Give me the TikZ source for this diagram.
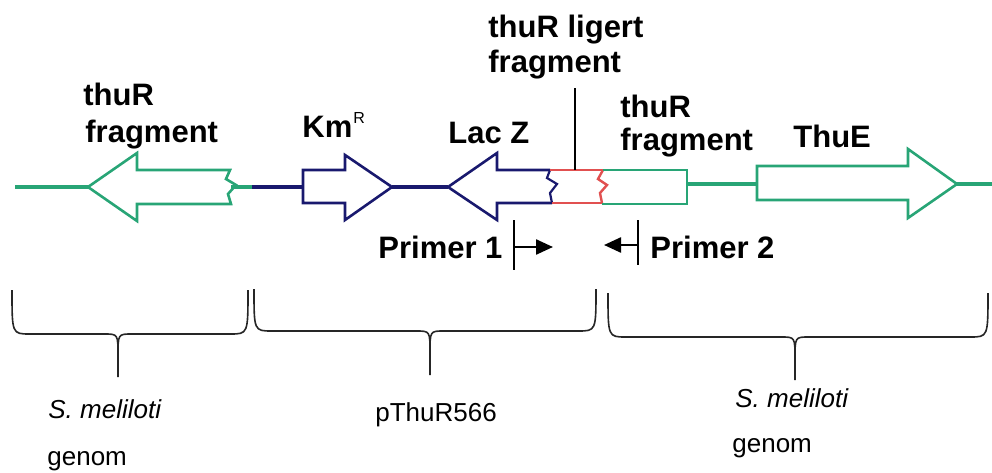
\documentclass[tikz,border=0pt]{standalone}
\usepackage{fontspec}
\setmainfont{Liberation Sans}
\usetikzlibrary{arrows.meta}
\definecolor{gengreen}{RGB}{40,165,118}
\definecolor{gennavy}{RGB}{25,25,110}
\definecolor{genred}{RGB}{225,80,80}
\newcommand\blfont{\fontsize{15.5}{17}\selectfont\bfseries}
\newcommand\rgfont{\fontsize{13}{15}\selectfont}
\tikzset{
  lbl/.style={anchor=base west,inner sep=0pt,font=\blfont},
  sublbl/.style={anchor=base west,inner sep=0pt,font=\rgfont},
  geneg/.style={draw=gengreen,line width=1.3pt,line join=miter},
  genen/.style={draw=gennavy,line width=1.3pt,line join=miter},
  gener/.style={draw=genred,line width=1.2pt},
  bracepath/.style={draw=black!85,line width=0.8pt},
  primerarrow/.style={line width=1.2pt,-{Triangle[length=8.5pt,width=7.5pt]}},
}
\begin{document}
\begin{tikzpicture}[x=0.5pt,y=-0.5pt]
\useasboundingbox (0,0) rectangle (992,472);
% named points
\coordinate (lstart) at (15,187);
\coordinate (ltip) at (88,187);
\coordinate (lend) at (231,187);
\coordinate (mid) at (252,187);
\coordinate (kmin) at (303,187);
\coordinate (kmtip) at (392,187);
\coordinate (laztip) at (448,187);
\coordinate (gbend) at (687,184);
\coordinate (thuein) at (757,184);
\coordinate (thuetip) at (957,184);
\coordinate (rend) at (992,184);
\coordinate (redtop) at (575,170);
% left thuR fragment arrow
\draw[geneg] (ltip) -- (137,153) -- (137,170) -- (230,170) -- (226,179) -- (236,185) -- (228,194) -- (231,204) -- (137,204) -- (137,221) -- cycle;
\draw[gengreen,line width=1.6pt] (lstart) -- (ltip);
\draw[gengreen,line width=1.6pt] (lend) -- (mid);
\draw[gennavy,line width=1.6pt] (mid) -- (kmin);
% KmR arrow
\draw[genen] (303,170) -- (345,170) -- (345,155) -- (kmtip) -- (345,220) -- (345,203) -- (303,203) -- cycle;
\draw[gennavy,line width=2.2pt] (kmtip) -- (laztip);
% LacZ arrow
\draw[genen] (550,170) -- (497,170) -- (497,153) -- (laztip) -- (497,220) -- (497,203) -- (552,203);
\draw[gennavy,line width=1.1pt] (550,170) -- (547,178) -- (557,184) -- (550,193) -- (552,203);
% red ligated fragment
\draw[gener] (550,170) -- (603,170);
\draw[gener] (552,203) -- (603,203);
\draw[gener] (603,170) -- (598,179) -- (607,185) -- (600,193) -- (602,203);
% right thuR fragment box
\draw[geneg] (603,170) -- (687,170) -- (687,204) -- (602,204);
\draw[gengreen,line width=1.6pt] (gbend) -- (thuein);
% ThuE arrow
\draw[geneg] (757,166) -- (908,166) -- (908,149) -- (thuetip) -- (908,218) -- (908,200) -- (757,200) -- cycle;
\draw[gengreen,line width=1.6pt] (thuetip) -- (rend);
% labels
\node[lbl] (t1) at (83,105) {thuR};
\node[lbl] (t2) at (85,142) {fragment};
\node[lbl] (km) at (302,137) {Km\kern0.5pt\raisebox{0.42em}{\fontsize{8}{9}\selectfont\mdseries R}};
\node[lbl] (lac) at (448,143) {Lac Z};
\node[lbl] (lg1) at (488,37) {thuR ligert};
\node[lbl] (lg2) at (488,72) {fragment};
\node[lbl] (t3) at (620,117) {thuR};
\node[lbl] (t4) at (620,150) {fragment};
\node[lbl] (thue) at (793,147) {ThuE};
\coordinate (lgfoot) at (575,88);
\draw[black,line width=0.9pt] (lgfoot) -- (redtop);
% primers
\node[lbl] (p1) at (378,258) {Primer 1};
\node[lbl] (p2) at (650,258) {Primer 2};
\coordinate (p1a) at (514,220); \coordinate (p1b) at (514,270);
\coordinate (p1s) at (514,247); \coordinate (p1e) at (553,247);
\coordinate (p2a) at (638,220); \coordinate (p2b) at (638,265);
\coordinate (p2s) at (638,245); \coordinate (p2e) at (604,245);
\draw[line width=1pt] (p1a) -- (p1b);
\draw[primerarrow] (p1s) -- (p1e);
\draw[line width=1pt] (p2a) -- (p2b);
\draw[primerarrow] (p2s) -- (p2e);
% braces
\foreach \xa/\xb/\xm/\yt/\yf/\yb in {12/248/118/290/334/377, 254/596/430/289/331/375, 608/988/795/293/337/380}{
  \draw[bracepath] (\xa,\yt) .. controls (\xa,\yf) and (\xa,\yf) .. (\xa+18,\yf) -- (\xm-14,\yf) .. controls (\xm,\yf) and (\xm,\yf) .. (\xm,\yf+22) -- (\xm,\yb);
  \draw[bracepath] (\xb,\yt) .. controls (\xb,\yf) and (\xb,\yf) .. (\xb-18,\yf) -- (\xm+14,\yf) .. controls (\xm,\yf) and (\xm,\yf) .. (\xm,\yf+22);
}
% bottom labels
\node[sublbl] (sm1) at (48,418) {\itshape S. meliloti};
\node[sublbl] (g1) at (47,465) {genom};
\node[sublbl] (pt) at (375,421) {pThuR566};
\node[sublbl] (sm2) at (735,407) {\itshape S. meliloti};
\node[sublbl] (g2) at (732,452) {genom};
\end{tikzpicture}
\end{document}
